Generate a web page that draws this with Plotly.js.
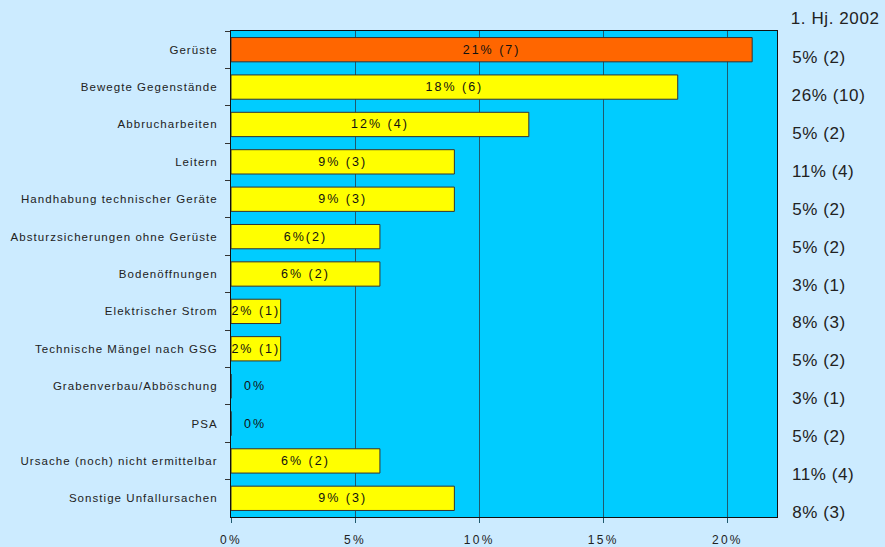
<!DOCTYPE html>
<html>
<head>
<meta charset="utf-8">
<script src="https://cdn.plot.ly/plotly-3.0.1.min.js"></script>
<style>
html,body{margin:0;padding:0;background:#CCEBFF;}
#chart{width:885px;height:547px;}
#chart .ytick text{letter-spacing:1.05px;}
#chart .xtick text{letter-spacing:2.3px;}
#chart .bartext{letter-spacing:2px;}
#chart .annotation-text.zero{letter-spacing:2px;}
#chart .annotation-text.prev{letter-spacing:0.6px;}
</style>
</head>
<body>
<div id="chart"></div>
<script>
const categories = [
  "Gerüste",
  "Bewegte Gegenstände",
  "Abbrucharbeiten",
  "Leitern",
  "Handhabung technischer Geräte",
  "Absturzsicherungen ohne Gerüste",
  "Bodenöffnungen",
  "Elektrischer Strom",
  "Technische Mängel nach GSG",
  "Grabenverbau/Abböschung",
  "PSA",
  "Ursache (noch) nicht ermittelbar",
  "Sonstige Unfallursachen"
];
const values = [21, 18, 12, 9, 9, 6, 6, 2, 2, 0, 0, 6, 9];
const barLabels = ["21% (7)", "18% (6)", "12% (4)", "9% (3)", "9% (3)", "6%(2)", "6% (2)", "2% (1)", "2% (1)", "0%", "0%", "6% (2)", "9% (3)"];
const prevHeader = "1. Hj. 2002";
const prevLabels = ["5% (2)", "26% (10)", "5% (2)", "11% (4)", "5% (2)", "5% (2)", "3% (1)", "8% (3)", "5% (2)", "3% (1)", "5% (2)", "11% (4)", "8% (3)"];

const colors = values.map((v, i) => i === 0 ? "#FF6600" : "#FFFF00");
const FONT = "Liberation Sans, Arial, sans-serif";

const trace = {
  type: "bar",
  orientation: "h",
  x: values,
  y: categories,
  width: 0.65,
  marker: {color: colors, line: {color: "#333333", width: 1}},
  text: barLabels.map((t, i) => values[i] > 0 ? t : ""),
  textposition: "inside",
  insidetextanchor: "middle",
  constraintext: "none",
  cliponaxis: false,
  textfont: {family: FONT, size: 12.5, color: "#111111"},
  hoverinfo: "none"
};

// invisible companion trace that anchors the right-hand column axis
const helper = {
  type: "scatter", mode: "markers", x: values, y: categories, yaxis: "y2",
  marker: {opacity: 0, size: 1}, hoverinfo: "none", showlegend: false
};

const annotations = [];
const classes = [];
values.forEach((v, i) => {
  if (v === 0) {
    annotations.push({
      x: 0, y: categories[i], xref: "x", yref: "y",
      text: barLabels[i], showarrow: false, xanchor: "left", xshift: 13,
      font: {family: FONT, size: 12.5, color: "#111111"}
    });
    classes.push("zero");
  }
  annotations.push({
    x: 1, y: categories[i], xref: "paper", yref: "y2",
    text: prevLabels[i], showarrow: false, xanchor: "left", xshift: 15,
    font: {family: FONT, size: 17, color: "#222222"}
  });
  classes.push("prev");
});
annotations.push({
  x: 1, y: 1, xref: "paper", yref: "paper",
  text: prevHeader, showarrow: false, xanchor: "left", yanchor: "middle", xshift: 15, yshift: 13,
  font: {family: FONT, size: 17, color: "#222222"}
});
classes.push("prev");

const layout = {
  width: 885, height: 547,
  margin: {l: 231, r: 108, t: 31, b: 30, pad: 0},
  paper_bgcolor: "#CCEBFF",
  plot_bgcolor: "#00CCFF",
  showlegend: false,
  xaxis: {
    range: [0, 22], dtick: 5, ticksuffix: "%",
    showgrid: true, gridcolor: "#1F5A6E", gridwidth: 1,
    zeroline: false, showline: true, linecolor: "#111111", mirror: true,
    ticks: "outside", ticklen: 5, tickcolor: "#1F5A6E",
    ticklabelstandoff: 7,
    tickfont: {family: FONT, size: 12, color: "#222222"},
    fixedrange: true
  },
  yaxis: {
    type: "category", autorange: "reversed",
    tickson: "boundaries", ticks: "outside", ticklen: 5, tickcolor: "#333333",
    ticklabelstandoff: 10,
    showgrid: false, showline: true, linecolor: "#111111", mirror: true,
    tickfont: {family: FONT, size: 11.5, color: "#222222"},
    fixedrange: true
  },
  yaxis2: {
    type: "category", categoryarray: categories, categoryorder: "array",
    overlaying: "y", side: "right", anchor: "x",
    range: [12.11, -0.69],
    showticklabels: false, showgrid: false, showline: false, zeroline: false, ticks: "",
    fixedrange: true
  },
  bargap: 0.32,
  annotations: annotations
};

Plotly.newPlot("chart", [trace, helper], layout, {displayModeBar: false, staticPlot: true}).then(gd => {
  gd.querySelectorAll(".annotation").forEach((g, i) => {
    const t = g.querySelector(".annotation-text");
    if (t && classes[i]) t.classList.add(classes[i]);
  });
});
</script>
</body>
</html>
